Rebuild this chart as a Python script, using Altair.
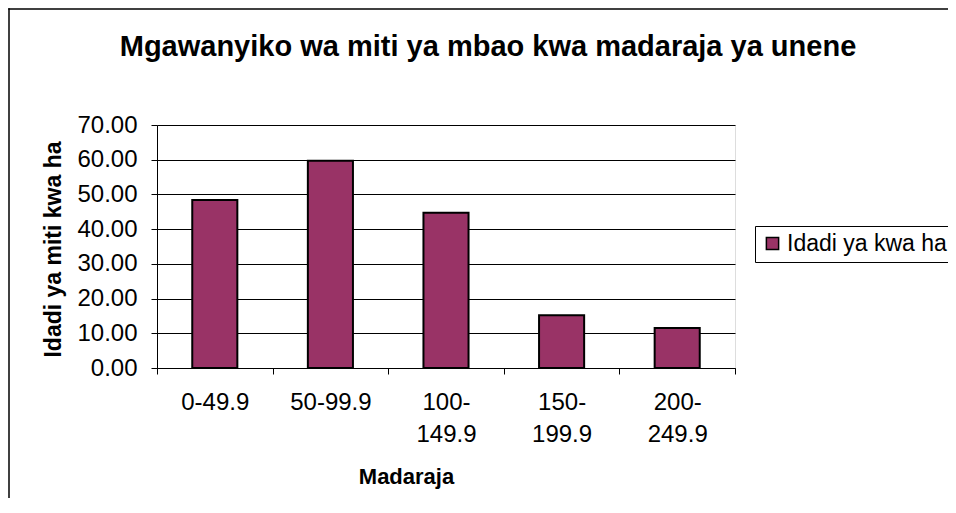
import altair as alt
import pandas as pd

categories = ["0-49.9", "50-99.9", "100-149.9", "150-199.9", "200-249.9"]
values = [48.4, 59.7, 44.7, 15.2, 11.5]
series_name = "Idadi ya kwa ha"
y_ticks = [0, 10, 20, 30, 40, 50, 60, 70]

title_text = "Mgawanyiko wa miti ya mbao kwa madaraja ya unene"
x_title = "Madaraja"
y_title = "Idadi ya miti kwa ha"

FONT = "Liberation Sans"

df = pd.DataFrame({"cat": categories, "val": values, "series": [series_name] * len(categories)})

label_expr = ("length(datum.label) > 7 ? "
              "[slice(datum.label, 0, indexof(datum.label, '-') + 1), "
              "slice(datum.label, indexof(datum.label, '-') + 1)] : datum.label")

bars = alt.Chart(df).mark_bar(
    stroke="black", strokeWidth=2, width=alt.RelativeBandSize(0.39)
).encode(
    x=alt.X(
        "cat:N", sort=categories,
        scale=alt.Scale(paddingInner=0, paddingOuter=0),
        axis=alt.Axis(
            title=x_title, titleFont=FONT, titleFontSize=22, titleFontWeight="bold",
            titleColor="black", titleBaseline="alphabetic", titleX=249, titleY=115,
            labelFont=FONT, labelFontSize=24, labelColor="black", labelAngle=0,
            labelPadding=16, labelLineHeight=32, labelBaseline="top",
            labelExpr=label_expr,
            tickBand="extent", tickColor="black", tickSize=6,
            domainColor="black", domainWidth=1, grid=False,
        ),
    ),
    y=alt.Y(
        "val:Q",
        scale=alt.Scale(domain=[0, 70], nice=False, zero=True),
        axis=alt.Axis(
            values=y_ticks, format=".2f",
            title=y_title, titleFont=FONT, titleFontSize=23, titleFontWeight="bold",
            titleColor="black", titleBaseline="alphabetic", titleX=-97, titleY=124,
            labelFont=FONT, labelFontSize=24, labelColor="black", labelPadding=14,
            tickColor="black", tickSize=6,
            domainColor="black", domainWidth=1,
            grid=True, gridColor="black", gridWidth=1,
        ),
    ),
    color=alt.Color(
        "series:N", title=None,
        scale=alt.Scale(range=["#993366"]),
        legend=alt.Legend(
            orient="none", legendX=598, legendY=101,
            symbolType="square", symbolSize=150,
            symbolStrokeColor="black", symbolStrokeWidth=1.5,
            labelFont=FONT, labelFontSize=23, labelColor="black", labelOffset=3,
            labelLimit=400, padding=6, strokeColor="black", fillColor="white",
        ),
    ),
)

frame_df = pd.DataFrame({"k": [0]})
left_edge = alt.Chart(frame_df).mark_rect(color="black", strokeWidth=0).encode(
    x=alt.value(-148.75), x2=alt.value(-147.25), y=alt.value(-116.75), y2=alt.value(2000)
)
top_edge = alt.Chart(frame_df).mark_rect(color="black", strokeWidth=0).encode(
    x=alt.value(-148.75), x2=alt.value(2000), y=alt.value(-116.75), y2=alt.value(-115.25)
)

chart = alt.layer(left_edge, top_edge, bars).properties(
    width=578, height=243,
    autosize="none",
    padding={"left": 149, "top": 117, "right": 213, "bottom": 130},
    title=alt.TitleParams(
        text=title_text, font=FONT, fontSize=29, fontWeight="bold", color="black",
        anchor="middle", dx=42, dy=77, offset=0, baseline="alphabetic",
    ),
).configure_view(
    fill="#C0C0C0", stroke="#808080", strokeWidth=2
).configure(background="white")

chart.save("out.html", embed_options={"renderer": "svg", "actions": False})
